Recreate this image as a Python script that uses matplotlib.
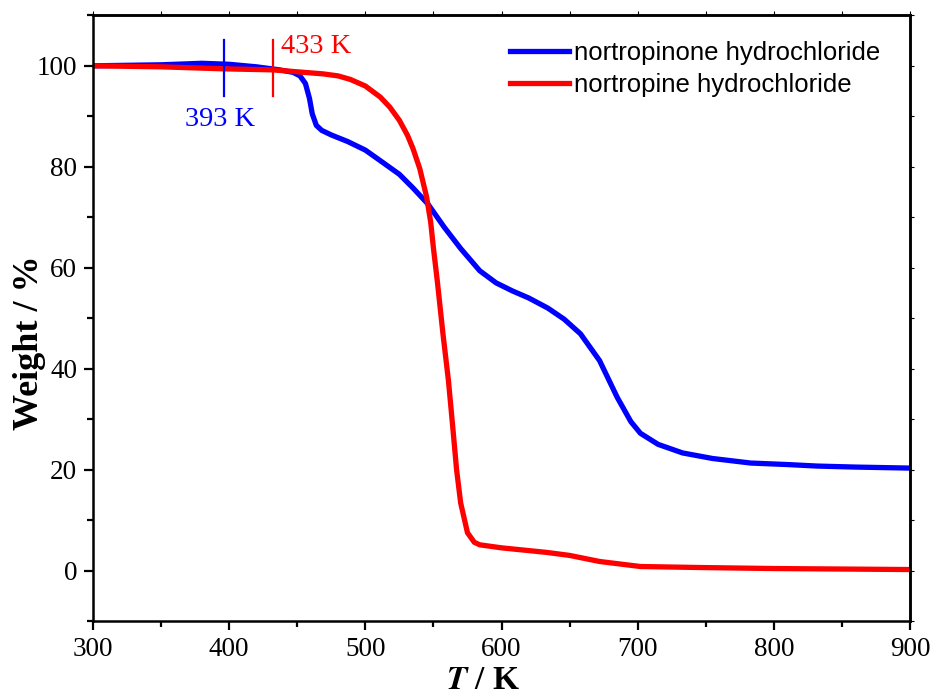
import numpy as np
import matplotlib.pyplot as plt
from matplotlib.ticker import MultipleLocator

plt.rcParams['font.family'] = 'Liberation Serif'
plt.rcParams['mathtext.fontset'] = 'stix'

# nortropinone hydrochloride (blue)
t_one = [300, 350, 380, 400, 420, 437, 447, 452, 456, 459, 461, 464, 468, 475, 487, 500, 511,
         525, 535, 546, 558, 570, 584, 596, 608, 620, 634, 646, 658, 672, 685, 695, 702, 715,
         733, 755, 783, 810, 832, 860, 880, 900]
w_one = [100.0, 100.2, 100.5, 100.3, 99.8, 99.2, 98.7, 98.0, 96.5, 93.5, 90.5, 88.2, 87.2,
         86.3, 85.0, 83.3, 81.2, 78.5, 75.8, 72.6, 68.0, 63.8, 59.4, 57.0, 55.4, 54.0, 52.0,
         49.8, 46.9, 41.6, 34.3, 29.5, 27.2, 25.0, 23.3, 22.2, 21.3, 21.0, 20.7, 20.5, 20.4,
         20.3]

# nortropine hydrochloride (red)
t_ine = [300, 350, 396, 432, 469, 480, 489, 500, 511, 518, 525, 531, 535, 540, 545, 548, 550,
         553, 557, 561, 564, 567, 570, 575, 580, 584, 600, 633, 650, 672, 702, 746, 800, 850,
         900]
w_ine = [100.0, 99.8, 99.4, 99.2, 98.4, 98.0, 97.3, 96.0, 93.8, 91.8, 89.2, 86.2, 83.6, 79.6,
         74.0, 69.0, 63.9, 57.0, 46.9, 37.7, 29.0, 20.0, 13.4, 7.5, 5.6, 5.1, 4.5, 3.6, 3.0,
         1.8, 0.8, 0.6, 0.4, 0.3, 0.2]

fig = plt.figure(figsize=(9.32, 6.97), dpi=100)
ax = fig.add_axes([0.0998, 0.109, 0.8766, 0.869])

ax.plot(t_one, w_one, color='blue', lw=3.8, label='nortropinone hydrochloride')
ax.plot(t_ine, w_ine, color='red', lw=3.8, label='nortropine hydrochloride')

# onset markers
ax.plot([396, 396], [94.0, 105.1], color='blue', lw=1.6)
ax.plot([432, 432], [94.0, 105.1], color='red', lw=1.6)
ax.text(393, 89.3, '393 K', color='blue', fontsize=20.5, ha='center', va='center')
ax.text(438, 103.9, '433 K', color='red', fontsize=20.5, ha='left', va='center')

ax.set_xlim(300, 900)
ax.set_ylim(-10, 110)
ax.xaxis.set_major_locator(MultipleLocator(100))
ax.xaxis.set_minor_locator(MultipleLocator(50))
ax.yaxis.set_major_locator(MultipleLocator(20))
ax.yaxis.set_minor_locator(MultipleLocator(10))
ax.tick_params(which='both', direction='out', labelsize=19.5, top=False, right=False)
ax.tick_params(which='major', length=6.5, width=1.6, pad=5)
ax.tick_params(which='minor', length=4, width=1.6)
ax2 = ax.secondary_xaxis('top')
ax2.xaxis.set_major_locator(MultipleLocator(50))
ax2.tick_params(direction='out', length=3, width=0.8, labeltop=False)
ax3 = ax.secondary_yaxis('right')
ax3.yaxis.set_major_locator(MultipleLocator(10))
ax3.tick_params(direction='out', length=3, width=0.8, labelright=False)
for s in list(ax.spines.values()) + [ax2.spines['top'], ax3.spines['right']]:
    s.set_linewidth(1.8)

ax.set_xlabel('$\\mathbfit{T}$ / K', fontsize=24, fontweight='bold')
ax.xaxis.set_label_coords(0.477, -0.072)
ax.set_ylabel('Weight / %', fontsize=26, fontweight='bold')
ax.yaxis.set_label_coords(-0.057, 0.46)

leg = ax.legend(loc='upper left', bbox_to_anchor=(0.482, 0.995), frameon=False,
                prop={'family': 'Liberation Sans', 'size': 18.5},
                handlelength=2.3, handletextpad=0.2, labelspacing=0.3)

fig.savefig('out.png', dpi=100)
